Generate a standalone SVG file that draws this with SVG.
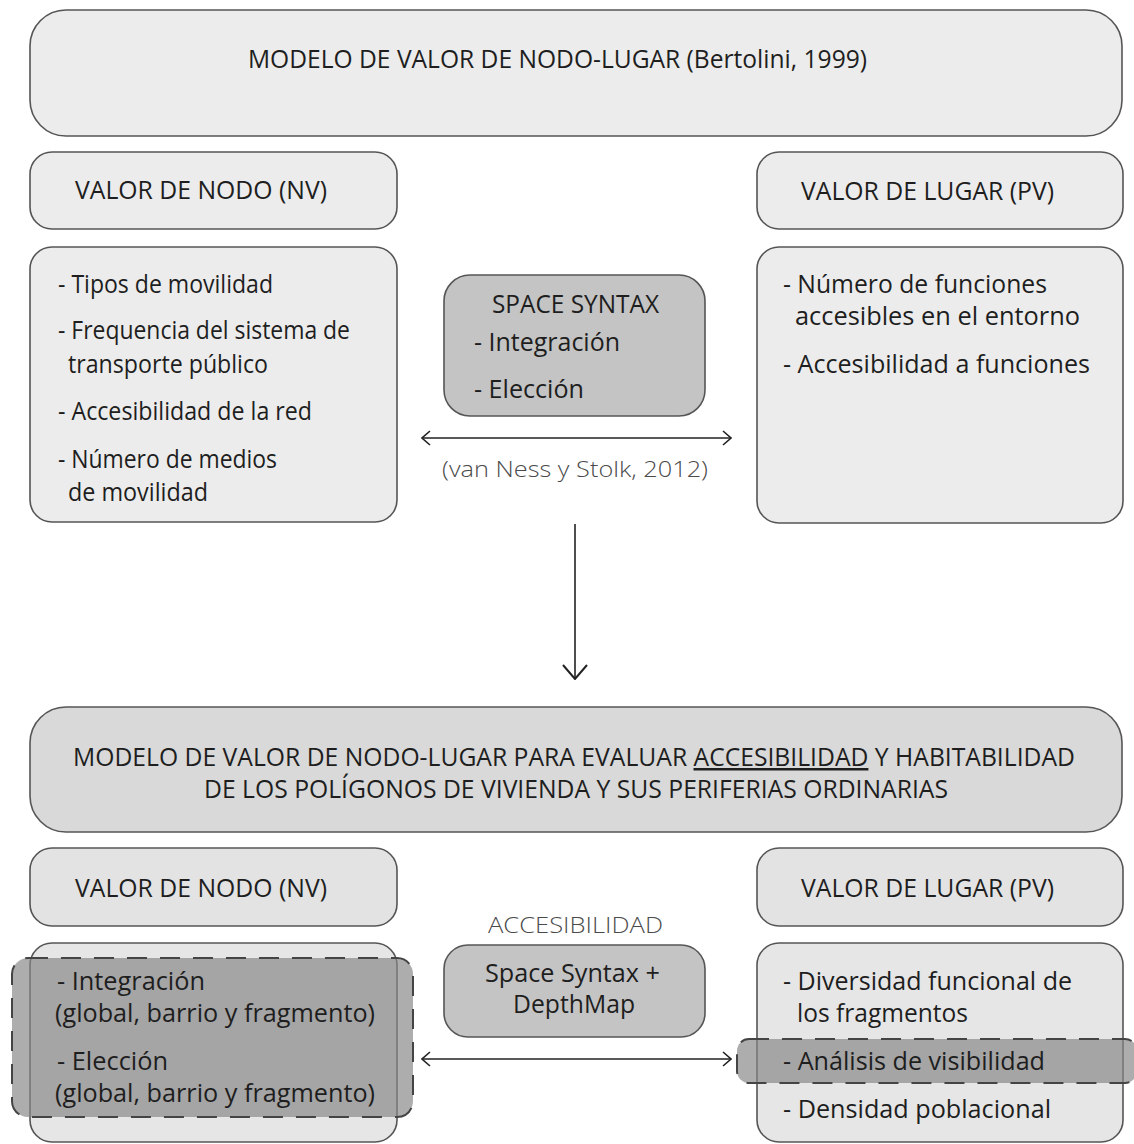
<svg xmlns="http://www.w3.org/2000/svg" width="1134" height="1144" viewBox="0 0 1134 1144">
<defs>
<style>
.box{stroke:#555;stroke-width:1.6}
.light{fill:#ececec}
.mid{fill:#c4c4c4}
.head2{fill:#d9d9d9}
.sub2{fill:#e3e3e3}
.cont2{fill:#e6e6e6}
text{font-family:"Open Sans","Noto Sans","DejaVu Sans",sans-serif;fill:#1e1e1e}
.t{font-size:25px}
.h{font-size:25px}
.lbl{font-size:22px;fill:#4a4a4a;font-weight:300}
.ov{stroke:#444;stroke-width:2;stroke-dasharray:20 13}
.conn{stroke:#222;stroke-width:1.6;fill:none}
</style>
<marker id="chev" viewBox="0 0 10 16" refX="9" refY="8" markerWidth="10" markerHeight="16" markerUnits="userSpaceOnUse" orient="auto-start-reverse">
<path d="M1,1 L9,8 L1,15" fill="none" stroke="#222" stroke-width="1.6"/>
</marker>
<marker id="chevBig" viewBox="0 0 16 26" refX="15" refY="13" markerWidth="16" markerHeight="26" markerUnits="userSpaceOnUse" orient="auto">
<path d="M1,1 L15,13 L1,25" fill="none" stroke="#222" stroke-width="2"/>
</marker>
</defs>
<rect width="1134" height="1144" fill="#fff"/>

<g id="model-top">
<rect class="box light" x="30" y="10" width="1092" height="126" rx="36"/>
<text class="h" x="248" y="68" textLength="619" lengthAdjust="spacingAndGlyphs">MODELO DE VALOR DE NODO-LUGAR (Bertolini, 1999)</text>
</g>

<g id="nv-top">
<rect class="box light" x="30" y="152" width="367" height="77" rx="22"/>
<text class="t" x="75" y="199" textLength="252" lengthAdjust="spacingAndGlyphs">VALOR DE NODO (NV)</text>
</g>

<g id="pv-top">
<rect class="box light" x="757" y="152" width="366" height="77" rx="22"/>
<text class="t" x="801" y="200" textLength="253" lengthAdjust="spacingAndGlyphs">VALOR DE LUGAR (PV)</text>
</g>

<g id="nv-top-content">
<rect class="box light" x="30" y="247" width="367" height="275" rx="22"/>
<text class="t" x="58" y="293" textLength="215" lengthAdjust="spacingAndGlyphs">- Tipos de movilidad</text>
<text class="t" x="58" y="339" textLength="292" lengthAdjust="spacingAndGlyphs">- Frequencia del sistema de</text>
<text class="t" x="68" y="373" textLength="200" lengthAdjust="spacingAndGlyphs">transporte público</text>
<text class="t" x="58" y="420" textLength="254" lengthAdjust="spacingAndGlyphs">- Accesibilidad de la red</text>
<text class="t" x="58" y="468" textLength="219" lengthAdjust="spacingAndGlyphs">- Número de medios</text>
<text class="t" x="68" y="501" textLength="140" lengthAdjust="spacingAndGlyphs">de movilidad</text>
</g>

<g id="space-syntax-top">
<rect class="box mid" x="444" y="275" width="261" height="141" rx="26"/>
<text class="t" x="492" y="313" textLength="167" lengthAdjust="spacingAndGlyphs">SPACE SYNTAX</text>
<text class="t" x="474" y="351" textLength="146" lengthAdjust="spacingAndGlyphs">- Integración</text>
<text class="t" x="474" y="398" textLength="110" lengthAdjust="spacingAndGlyphs">- Elección</text>
</g>

<g id="pv-top-content">
<rect class="box light" x="757" y="247" width="366" height="276" rx="22"/>
<text class="t" x="783" y="293" textLength="264" lengthAdjust="spacingAndGlyphs">- Número de funciones</text>
<text class="t" x="795" y="325" textLength="285" lengthAdjust="spacingAndGlyphs">accesibles en  el entorno</text>
<text class="t" x="783" y="373" textLength="307" lengthAdjust="spacingAndGlyphs">- Accesibilidad a funciones</text>
</g>

<g id="ref-label">
<text class="lbl" x="442" y="477" textLength="266" lengthAdjust="spacingAndGlyphs">(van Ness y Stolk, 2012)</text>
</g>

<g id="model-bottom">
<rect class="box head2" x="30" y="707" width="1092" height="125" rx="36"/>
<text class="h" x="73" y="766" textLength="1002" lengthAdjust="spacingAndGlyphs">MODELO DE VALOR DE NODO-LUGAR PARA EVALUAR <tspan text-decoration="underline">ACCESIBILIDAD</tspan> Y HABITABILIDAD</text>
<text class="h" x="204" y="798" textLength="744" lengthAdjust="spacingAndGlyphs">DE LOS POLÍGONOS DE VIVIENDA Y SUS PERIFERIAS ORDINARIAS</text>
</g>

<g id="nv-bottom">
<rect class="box sub2" x="30" y="848" width="367" height="78" rx="22"/>
<text class="t" x="75" y="897" textLength="252" lengthAdjust="spacingAndGlyphs">VALOR DE NODO (NV)</text>
</g>

<g id="pv-bottom">
<rect class="box sub2" x="757" y="848" width="366" height="78" rx="22"/>
<text class="t" x="801" y="897" textLength="253" lengthAdjust="spacingAndGlyphs">VALOR DE LUGAR (PV)</text>
</g>

<g id="acc-label">
<text class="lbl" x="488" y="933" textLength="175" lengthAdjust="spacingAndGlyphs">ACCESIBILIDAD</text>
</g>

<g id="nv-bottom-content">
<rect class="box cont2" x="30" y="943" width="367" height="199" rx="22"/>
<rect class="ov" x="12" y="958" width="401" height="159" rx="16" fill="#868686" fill-opacity="0.68"/>
<text class="t" x="57" y="990" textLength="148" lengthAdjust="spacingAndGlyphs">- Integración</text>
<text class="t" x="55" y="1022" textLength="320" lengthAdjust="spacingAndGlyphs">(global, barrio y fragmento)</text>
<text class="t" x="57" y="1070" textLength="111" lengthAdjust="spacingAndGlyphs">- Elección</text>
<text class="t" x="55" y="1102" textLength="320" lengthAdjust="spacingAndGlyphs">(global, barrio y fragmento)</text>
</g>

<g id="space-syntax-bottom">
<rect class="box mid" x="444" y="945" width="261" height="92" rx="24"/>
<text class="t" x="485" y="982" textLength="175" lengthAdjust="spacingAndGlyphs">Space Syntax +</text>
<text class="t" x="513" y="1013" textLength="122" lengthAdjust="spacingAndGlyphs">DepthMap</text>
</g>

<g id="pv-bottom-content">
<rect class="box cont2" x="757" y="943" width="366" height="199" rx="22"/>
<rect class="ov" x="737" y="1039" width="400" height="44" rx="12" fill="#868686" fill-opacity="0.68"/>
<text class="t" x="783" y="990" textLength="289" lengthAdjust="spacingAndGlyphs">- Diversidad funcional de</text>
<text class="t" x="797" y="1022" textLength="171" lengthAdjust="spacingAndGlyphs">los fragmentos</text>
<text class="t" x="783" y="1070" textLength="262" lengthAdjust="spacingAndGlyphs">- Análisis de visibilidad</text>
<text class="t" x="783" y="1118" textLength="268" lengthAdjust="spacingAndGlyphs">- Densidad poblacional</text>
</g>

<g id="connectors">
<line class="conn" x1="422" y1="438" x2="731" y2="438" marker-start="url(#chev)" marker-end="url(#chev)"/>
<line class="conn" x1="575" y1="524" x2="575" y2="679" marker-end="url(#chevBig)"/>
<line class="conn" x1="422" y1="1059" x2="731" y2="1059" marker-start="url(#chev)" marker-end="url(#chev)"/>
</g>
</svg>
